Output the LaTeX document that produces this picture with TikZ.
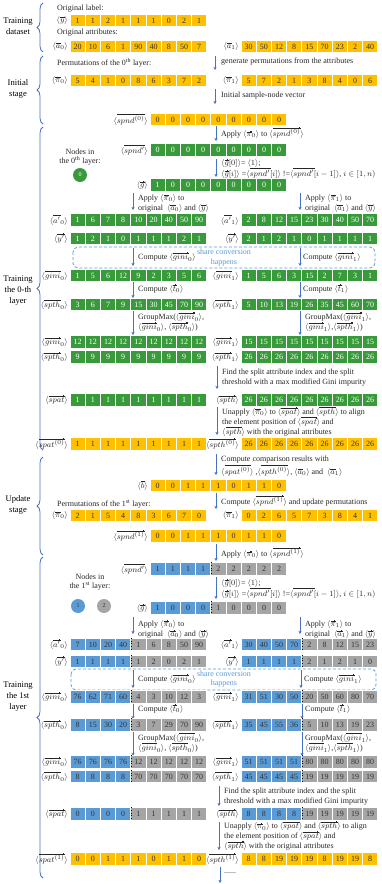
\documentclass[tikz,border=0pt]{standalone}
\usepackage{fontspec}
\setmainfont{Liberation Serif}
\usetikzlibrary{arrows.meta,decorations.pathreplacing}
\definecolor{cy}{HTML}{FFC000}
\definecolor{cg}{HTML}{389A3A}
\definecolor{cb}{HTML}{5B9BD5}
\definecolor{cgr}{HTML}{A5A5A5}
\definecolor{ca}{HTML}{4472C4}
\newsavebox\ovrbox
\newcommand\ovrhead{\rule[0.1pt]{0.35pt}{1.6pt}\rule[0.35pt]{0.35pt}{1.1pt}\rule[0.6pt]{0.35pt}{0.6pt}\rule[0.75pt]{0.35pt}{0.3pt}}
\newcommand\ovr[1]{\mathord{\sbox\ovrbox{$#1$}\vbox{\offinterlineskip\hbox to\wd\ovrbox{\rule[0.7pt]{\dimexpr\wd\ovrbox-1.4pt\relax}{0.4pt}\ovrhead}\kern0.6pt\box\ovrbox}}}
\tikzset{
 fbase/.style={inner sep=0pt, font=\fontsize{8}{9.6}\selectfont},
 txt/.style={fbase, anchor=west, align=left, text=black!85},
 rowlab/.style={fbase, anchor=east, text=black!85},
 cellb/.style={fbase, draw=white, line width=0.9pt, minimum width=15.2pt, minimum height=12.5pt},
 ycell/.style={cellb, fill=cy, text=black!80},
 gcell/.style={cellb, fill=cg, text=white},
 bcell/.style={cellb, fill=cb, text=black!80},
 grcell/.style={cellb, fill=cgr, text=black!80},
 arr/.style={draw=ca, line width=0.8pt, -{Stealth[length=3.2pt,width=3.2pt]}},
 brc/.style={draw=ca, line width=0.8pt, decorate, decoration={brace, amplitude=6pt}},
 stagelab/.style={inner sep=0pt, align=center, font=\fontsize{8.6}{11}\selectfont, text=black},
 dotsep/.style={draw=black, dotted, line width=0.7pt},
 dbox/.style={draw=cb, line width=0.8pt, rounded corners=5pt, dash pattern=on 3pt off 2pt},
 mycirc/.style={circle, minimum size=14pt, inner sep=0pt, font=\fontsize{6}{6}\selectfont}
}
\newcommand\myrow[6]{%
  \node[rowlab] (#1-l) at ({#2-2},#3) {#5};
  \foreach \v [count=\i] in {#6} {\node[#4] (#1-\i) at ({#2+(\i-0.5)*15.2},#3) {\v};}
}
\newcommand\mysplit[5]{%
  \node[rowlab] (#1-l) at ({#2-2},#3) {#4};
  \foreach \v [count=\i] in {#5} {%
    \ifnum\i<5\relax \node[bcell] (#1-\i) at ({#2+(\i-0.5)*15.2},#3) {\v};%
    \else \node[grcell] (#1-\i) at ({#2+(\i-0.5)*15.2},#3) {\v};\fi}
  \draw[dotsep] (#1-4.north east) -- (#1-4.south east);
}
\newcommand\myarrow[4]{%
  \coordinate (#1-s) at (#2,#3); \coordinate (#1-e) at (#2,#4);
  \draw[arr] (#1-s) -- (#1-e);
}
\begin{document}
\begin{tikzpicture}[x=1pt,y=-1pt]
\useasboundingbox (0,0) rectangle (382,884);
% stage labels and braces
\node[stagelab] (L1) at (18,26) {Training\\dataset};
\node[stagelab] (L2) at (18,89) {Initial\\stage};
\node[stagelab] (L3) at (18,291) {Training\\the 0-th\\layer};
\node[stagelab] (L4) at (18,505) {Update\\stage};
\node[stagelab] (L5) at (18,697) {Training\\the 1st\\layer};
\draw[brc] (43,52) -- (43,3);
\draw[brc] (43,124) -- (43,56);
\draw[brc] (43,450) -- (43,127);
\draw[brc] (43,555) -- (43,457);
\draw[brc] (43,878) -- (43,557);
% training dataset
\node[txt] (t1) at (57,9) {Original label:};
\myrow{y}{70}{20.5}{ycell}{$\langle\ovr{y}\rangle$}{1,1,2,1,1,1,0,2,1}
\node[txt] (t2) at (57,33) {Original attributes:};
\myrow{a0}{70}{46.5}{ycell}{$\langle\ovr{a}_0\rangle$}{20,10,6,1,90,40,8,50,7}
\myrow{a1}{241}{46.5}{ycell}{$\langle\ovr{a}_1\rangle$}{30,50,12,8,15,70,23,2,40}
% initial stage
\node[txt] (t3) at (57,63) {Permutations of the 0\textsuperscript{th} layer:};
\myarrow{ar1}{215}{56}{70}
\node[txt] (t4) at (221,62) {generate permutations from the attributes};
\myrow{p0}{70}{80.5}{ycell}{$\langle\ovr{\pi}_0\rangle$}{5,4,1,0,8,6,3,7,2}
\myrow{p1}{241}{80.5}{ycell}{$\langle\ovr{\pi}_1\rangle$}{5,7,2,1,3,8,4,0,6}
\myarrow{ar2}{215}{89}{104}
\node[txt] (t5) at (221,96) {Initial sample-node vector};
\myrow{s0}{150}{119.5}{ycell}{$\langle\ovr{spnd^{(0)}}\rangle$}{0,0,0,0,0,0,0,0,0}
% training 0-th layer
\myarrow{ar3}{216}{126}{141}
\node[txt] (t6) at (221,133) {Apply $\langle\ovr{\pi}_0\rangle$ to $\langle\ovr{spnd^{(0)}}\rangle$};
\myrow{sp}{150}{150}{gcell}{$\langle\ovr{spnd'}\rangle$}{0,0,0,0,0,0,0,0,0}
\node[txt, anchor=center, align=center] (n0t) at (80,157) {Nodes in\\the 0\textsuperscript{th} layer:};
\node[mycirc, fill=cg, text=white] (n0) at (80,175) {0};
\myarrow{ar4}{216}{159}{177}
\node[txt] (t7a) at (221,163) {$\langle\ovr{g}[0]\rangle$= $\langle 1\rangle$;};
\node[txt] (t7b) at (221,173) {$\langle\ovr{g}[i]\rangle$ =$\langle\ovr{spnd'}[i]\rangle$ !=$\langle\ovr{spnd'}[i-1]\rangle$, $i\in[1,n)$};
\myrow{g}{150}{185}{gcell}{$\langle\ovr{g}\rangle$}{1,0,0,0,0,0,0,0,0}
\myarrow{ar5}{133}{193}{210}
\node[txt] (t8a) at (138,198.5) {Apply $\langle\ovr{\pi}_0\rangle$ to};
\node[txt] (t8b) at (138,208.5) {original \ $\langle\ovr{a}_0\rangle$ and $\langle\ovr{y}\rangle$};
\myarrow{ar6}{300}{193}{210}
\node[txt] (t9a) at (305,198.5) {Apply $\langle\ovr{\pi}_1\rangle$ to};
\node[txt] (t9b) at (305,208.5) {original \ $\langle\ovr{a}_1\rangle$ and $\langle\ovr{y}\rangle$};
\myrow{ap0}{70}{220}{gcell}{$\langle\ovr{a'}_0\rangle$}{1,6,7,8,10,20,40,50,90}
\myrow{ap1}{241}{220}{gcell}{$\langle\ovr{a'}_1\rangle$}{2,8,12,15,23,30,40,50,70}
\myrow{yp0}{70}{238.5}{gcell}{$\langle\ovr{y'}\rangle$}{1,2,1,0,1,1,1,2,1}
\myrow{yp1}{241}{238.5}{gcell}{$\langle\ovr{y'}\rangle$}{2,1,2,1,0,1,1,1,1}
\draw[dbox] (73,247) rectangle (375,268);
\myarrow{ar7}{133}{248}{266}
\node[txt] (t10) at (138,257) {Compute $\langle\ovr{gini}_0\rangle$};
\myarrow{ar8}{300}{248}{266}
\node[txt] (t11) at (303,257) {Compute $\langle\ovr{gini}_1\rangle$};
\node[txt, anchor=center, align=center, text=cb] (t12) at (224,257.5) {share conversion\\happens};
\myrow{gi0}{70}{275.5}{gcell}{$\langle\ovr{gini}_0\rangle$}{1,5,6,12,9,2,3,5,6}
\myrow{gi1}{241}{275.5}{gcell}{$\langle\ovr{gini}_1\rangle$}{1,5,6,3,15,2,7,3,1}
\myarrow{ar9}{133}{282}{298}
\node[txt] (t13) at (138,289) {Compute $\langle\ovr{t}_0\rangle$};
\myarrow{ar10}{300}{282}{298}
\node[txt] (t14) at (303,289) {Compute $\langle\ovr{t}_1\rangle$};
\myrow{st0}{70}{304.5}{gcell}{$\langle\ovr{spth}_0\rangle$}{3,6,7,9,15,30,45,70,90}
\myrow{st1}{241}{304.5}{gcell}{$\langle\ovr{spth}_1\rangle$}{5,10,13,19,26,35,45,60,70}
\myarrow{ar11}{133}{311}{335}
\node[txt] (t15a) at (138,317) {GroupMax($\langle\ovr{gini}_0\rangle$,};
\node[txt] (t15b) at (138,327) {$\langle\ovr{gini}_0\rangle$, $\langle\ovr{spth}_0\rangle$)};
\myarrow{ar12}{300}{311}{335}
\node[txt] (t16a) at (305,317) {GroupMax($\langle\ovr{gini}_1\rangle$,};
\node[txt] (t16b) at (305,327) {$\langle\ovr{gini}_1\rangle$,$\langle\ovr{spth}_1\rangle$)};
\myrow{gb0}{70}{342}{gcell}{$\langle\ovr{gini}_0\rangle$}{12,12,12,12,12,12,12,12,12}
\myrow{gb1}{241}{342}{gcell}{$\langle\ovr{gini}_1\rangle$}{15,15,15,15,15,15,15,15,15}
\myrow{sb0}{70}{357}{gcell}{$\langle\ovr{spth}_0\rangle$}{9,9,9,9,9,9,9,9,9}
\myrow{sb1}{241}{357}{gcell}{$\langle\ovr{spth}_1\rangle$}{26,26,26,26,26,26,26,26,26}
\myarrow{ar13}{217}{366}{389}
\node[txt] (t17a) at (222,373) {Find the split attribute index and the split};
\node[txt] (t17b) at (222,383) {threshold with a max modified Gini impurity};
\myrow{sa}{70}{400}{gcell}{$\langle\ovr{spat}\rangle$}{1,1,1,1,1,1,1,1,1}
\myrow{sh}{241}{400}{gcell}{$\langle\ovr{spth}\rangle$}{26,26,26,26,26,26,26,26,26}
\myarrow{ar14}{217}{407}{435}
\node[txt] (t18a) at (222,411.5) {Unapply $\langle\ovr{\pi}_0\rangle$ to $\langle\ovr{spat}\rangle$ and $\langle\ovr{spth}\rangle$ to align};
\node[txt] (t18b) at (222,421.5) {the element position of $\langle\ovr{spat}\rangle$ and};
\node[txt] (t18c) at (222,431.5) {$\langle\ovr{spth}\rangle$ with the original attributes};
\myrow{sa0}{70}{444}{ycell}{$\langle\ovr{spat^{(0)}}\rangle$}{1,1,1,1,1,1,1,1,1}
\myrow{sh0}{241}{444}{ycell}{$\langle\ovr{spth^{(0)}}\rangle$}{26,26,26,26,26,26,26,26,26}
% update stage
\myarrow{ar15}{216}{454}{475}
\node[txt] (t19a) at (221,460) {Compute comparison results with};
\node[txt] (t19b) at (221,470.5) {$\langle\ovr{spat^{(0)}}\rangle$ ,$\langle\ovr{spth^{(0)}}\rangle$, $\langle\ovr{a}_0\rangle$ and \ $\langle\ovr{a}_1\rangle$};
\myrow{b}{150}{485.5}{ycell}{$\langle\ovr{b}\rangle$}{0,0,1,1,1,0,1,1,0}
\myarrow{ar16}{216}{493}{509}
\node[txt] (t20) at (221,501) {Compute $\langle\ovr{spnd^{(1)}}\rangle$ and update permutations};
\node[txt] (t21) at (57,504) {Permutations of the 1\textsuperscript{st} layer:};
\myrow{q0}{70}{515.5}{ycell}{$\langle\ovr{\pi}_0\rangle$}{2,1,5,4,8,3,6,7,0}
\myrow{q1}{241}{515.5}{ycell}{$\langle\ovr{\pi}_1\rangle$}{0,2,6,5,7,3,8,4,1}
\myrow{s1}{150}{536}{ycell}{$\langle\ovr{spnd^{(1)}}\rangle$}{0,0,1,1,1,0,1,1,0}
% training 1st layer
\myarrow{ar17}{216}{544}{561}
\node[txt] (t22) at (221,553) {Apply $\langle\ovr{\pi}_0\rangle$ to $\langle\ovr{spnd^{(1)}}\rangle$};
\mysplit{sq}{150}{569}{$\langle\ovr{spnd'}\rangle$}{1,1,1,1,2,2,2,2,2}
\node[txt, anchor=center, align=center] (n1t) at (90,582) {Nodes in\\the 1\textsuperscript{st} layer:};
\node[mycirc, fill=cb, text=black!80] (n1) at (78,606) {1};
\node[mycirc, fill=cgr, text=black!80] (n2) at (104,606) {2};
\myarrow{ar18}{216}{577}{599}
\node[txt] (t23a) at (221,583) {$\langle\ovr{g}[0]\rangle$= $\langle 1\rangle$;};
\node[txt] (t23b) at (221,593) {$\langle\ovr{g}[i]\rangle$ =$\langle\ovr{spnd'}[i]\rangle$ !=$\langle\ovr{spnd'}[i-1]\rangle$, $i\in[1,n)$};
\mysplit{g1}{150}{608}{$\langle\ovr{g}\rangle$}{1,0,0,0,1,0,0,0,0}
\myarrow{ar19}{133}{617}{634}
\node[txt] (t24a) at (138,624) {Apply $\langle\ovr{\pi}_0\rangle$ to};
\node[txt] (t24b) at (138,634) {original \ $\langle\ovr{a}_0\rangle$ and $\langle\ovr{y}\rangle$};
\myarrow{ar20}{300}{617}{634}
\node[txt] (t25a) at (305,624) {Apply $\langle\ovr{\pi}_1\rangle$ to};
\node[txt] (t25b) at (305,634) {original \ $\langle\ovr{a}_1\rangle$ and $\langle\ovr{y}\rangle$};
\mysplit{bp0}{70}{644.5}{$\langle\ovr{a'}_0\rangle$}{7,10,20,40,1,6,8,50,90}
\mysplit{bp1}{241}{644.5}{$\langle\ovr{a'}_1\rangle$}{30,40,50,70,2,8,12,15,23}
\mysplit{yq0}{70}{661.5}{$\langle\ovr{y'}\rangle$}{1,1,1,1,1,2,0,2,1}
\mysplit{yq1}{241}{661.5}{$\langle\ovr{y'}\rangle$}{1,1,1,1,2,1,2,1,0}
\draw[dbox] (71,669) rectangle (376,690);
\myarrow{ar21}{133}{670}{688}
\node[txt] (t26) at (138,679) {Compute $\langle\ovr{gini}_0\rangle$};
\myarrow{ar22}{301}{670}{688}
\node[txt] (t27) at (304,679) {Compute $\langle\ovr{gini}_1\rangle$};
\node[txt, anchor=center, align=center, text=cb] (t28) at (224,679) {share conversion\\happens};
\mysplit{hi0}{70}{697}{$\langle\ovr{gini}_0\rangle$}{76,62,71,60,4,3,10,12,3}
\mysplit{hi1}{241}{697}{$\langle\ovr{gini}_1\rangle$}{31,51,30,50,20,50,60,80,70}
\myarrow{ar23}{133}{704}{719}
\node[txt] (t29) at (138,709) {Compute $\langle\ovr{t}_0\rangle$};
\myarrow{ar24}{302}{704}{719}
\node[txt] (t30) at (305,709) {Compute $\langle\ovr{t}_1\rangle$};
\mysplit{th0}{70}{725}{$\langle\ovr{spth}_0\rangle$}{8,15,30,20,3,7,29,70,90}
\mysplit{th1}{241}{725}{$\langle\ovr{spth}_1\rangle$}{35,45,55,36,5,10,13,19,23}
\myarrow{ar25}{133}{732}{756}
\node[txt] (t31a) at (138,737.5) {GroupMax($\langle\ovr{gini}_0\rangle$,};
\node[txt] (t31b) at (138,747.5) {$\langle\ovr{gini}_0\rangle$, $\langle\ovr{spth}_0\rangle$)};
\myarrow{ar26}{302}{732}{756}
\node[txt] (t32a) at (305,737.5) {GroupMax($\langle\ovr{gini}_1\rangle$,};
\node[txt] (t32b) at (305,747.5) {$\langle\ovr{gini}_1\rangle$,$\langle\ovr{spth}_1\rangle$)};
\mysplit{hb0}{70}{762}{$\langle\ovr{gini}_0\rangle$}{76,76,76,76,12,12,12,12,12}
\mysplit{hb1}{241}{762}{$\langle\ovr{gini}_1\rangle$}{51,51,51,51,80,80,80,80,80}
\mysplit{tb0}{70}{776.5}{$\langle\ovr{spth}_0\rangle$}{8,8,8,8,70,70,70,70,70}
\mysplit{tb1}{241}{776.5}{$\langle\ovr{spth}_1\rangle$}{45,45,45,45,19,19,19,19,19}
\myarrow{ar27}{219}{786}{806}
\node[txt] (t33a) at (224,792) {Find the split attribute index and the split};
\node[txt] (t33b) at (224,801.5) {threshold with a max modified Gini impurity};
\mysplit{pa}{70}{814}{$\langle\ovr{spat}\rangle$}{0,0,0,0,1,1,1,1,1}
\mysplit{ph}{241}{814}{$\langle\ovr{spth}\rangle$}{8,8,8,8,19,19,19,19,19}
\myarrow{ar28}{219}{822}{850}
\node[txt] (t34a) at (224,826) {Unapply $\langle\ovr{\pi}_0\rangle$ to $\langle\ovr{spat}\rangle$ and $\langle\ovr{spth}\rangle$ to align};
\node[txt] (t34b) at (224,836) {the element position of $\langle\ovr{spat}\rangle$ and};
\node[txt] (t34c) at (224,846) {$\langle\ovr{spth}\rangle$ with the original attributes};
\myrow{pa1}{70}{859}{ycell}{$\langle\ovr{spat^{(1)}}\rangle$}{0,0,1,1,1,0,1,1,0}
\myrow{ph1}{241}{859}{ycell}{$\langle\ovr{spth^{(1)}}\rangle$}{8,8,19,19,19,8,19,19,8}
\myarrow{ar29}{220}{867}{883}
\node[txt] (t35) at (224,873) {......};
\end{tikzpicture}
\end{document}
